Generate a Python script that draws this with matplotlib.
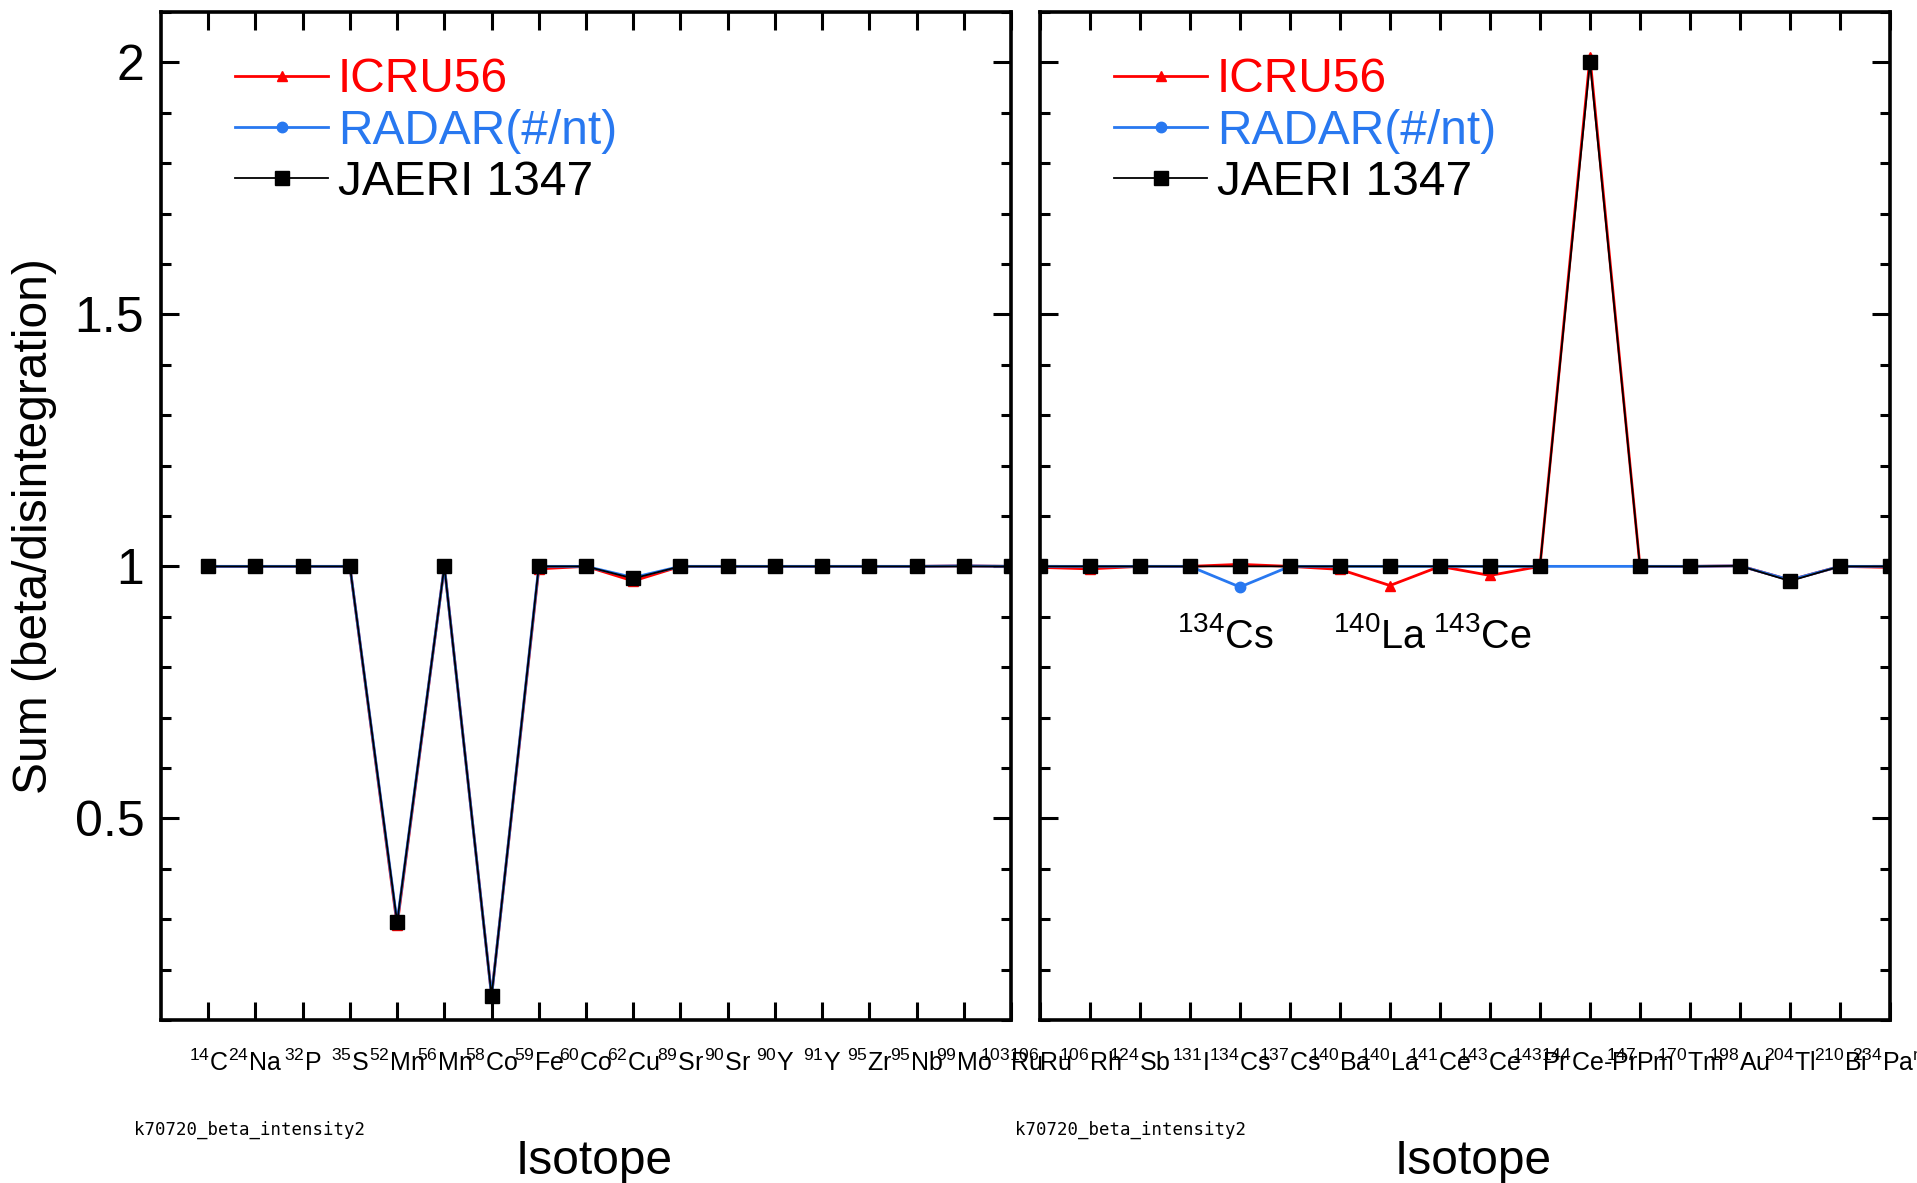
import matplotlib.pyplot as plt
from matplotlib.ticker import MultipleLocator, FixedLocator, FixedFormatter

plt.rcParams["font.family"] = ["Liberation Sans", "DejaVu Sans"]
plt.rcParams["mathtext.fontset"] = "custom"
plt.rcParams["mathtext.rm"] = "Liberation Sans"
plt.rcParams["mathtext.it"] = "Liberation Sans:italic"
plt.rcParams["mathtext.bf"] = "Liberation Sans:bold"

# isotopes, first half
ISO_A = [r"$^{14}$C", r"$^{24}$Na", r"$^{32}$P", r"$^{35}$S", r"$^{52}$Mn",
         r"$^{56}$Mn", r"$^{58}$Co", r"$^{59}$Fe", r"$^{60}$Co", r"$^{62}$Cu",
         r"$^{89}$Sr", r"$^{90}$Sr", r"$^{90}$Y", r"$^{91}$Y", r"$^{95}$Zr",
         r"$^{95}$Nb", r"$^{99}$Mo", r"$^{103}$Ru"]
ICRU_A = [1.0, 1.0, 1.0, 1.0, 0.288, 1.0, 0.148, 0.995, 1.0, 0.971,
          1.0, 1.0, 1.0, 1.0, 1.0, 1.0, 1.001, 1.0]
RADAR_A = [1.0, 1.0, 1.0, 1.0, 0.294, 1.0, 0.148, 1.0, 1.0, 0.978,
           1.0, 1.0, 1.0, 1.0, 1.0, 1.0, 1.001, 1.0]
JAERI_A = [1.0, 1.0, 1.0, 1.0, 0.294, 1.0, 0.148, 1.0, 1.0, 0.976,
           1.0, 1.0, 1.0, 1.0, 1.0, 1.0, 1.0, 1.0]

# isotopes, second half
ISO_B = [r"$^{106}$Ru", r"$^{106}$Rh", r"$^{124}$Sb", r"$^{131}$I", r"$^{134}$Cs",
         r"$^{137}$Cs", r"$^{140}$Ba", r"$^{140}$La", r"$^{141}$Ce", r"$^{143}$Ce",
         r"$^{143}$Pr", r"$^{144}$Ce-Pr", r"$^{147}$Pm", r"$^{170}$Tm", r"$^{198}$Au",
         r"$^{204}$Tl", r"$^{210}$Bi", r"$^{234}$Pa$^{\mathrm{m}}$"]
ICRU_B = [0.998, 0.995, 1.0, 1.0, 1.004, 1.0, 0.994, 0.962, 1.0, 0.982,
          1.0, 2.01, 1.0, 1.0, 1.001, 0.973, 1.0, 0.998]
RADAR_B = [1.0, 1.0, 1.0, 1.0, 0.959, 1.0, 1.0, 1.0, 1.0, 1.0,
           1.0, 1.0, 1.0, 1.0, 1.001, 0.973, 1.0, 1.0]
JAERI_B = [1.0, 1.0, 1.0, 1.0, 1.0, 1.0, 1.0, 1.0, 1.0, 1.0,
           1.0, 2.0, 1.0, 1.0, 1.001, 0.971, 1.0, 1.0]
# RADAR has no point of its own for the 144Ce-Pr chain, the line just passes
RADAR_B_MARKED = [i for i in range(len(ISO_B)) if i != 11]

NOTES = [(r"$^{134}$Cs", 3.7), (r"$^{140}$La", 6.8), (r"$^{143}$Ce", 8.85)]
NOTE_Y = 0.86

RED = "#FF0000"
BLUE = "#2878F0"


def draw_panel(ax, names, icru, radar, jaeri, xlim, show_yticklabels,
               radar_marks=None):
    x = list(range(len(names)))
    ax.plot(x, icru, color=RED, lw=2.0, marker="^", ms=7.5, label="ICRU56")
    ax.plot(x, radar, color=BLUE, lw=2.0, marker="o", ms=7.5,
            markevery=radar_marks, label="RADAR(#/nt)")
    ax.plot(x, jaeri, color="black", lw=1.3, marker="s", ms=9.5, label="JAERI 1347")

    ax.set_xlim(*xlim)
    ax.set_ylim(0.1, 2.1)
    ax.xaxis.set_major_locator(FixedLocator(x))
    ax.xaxis.set_major_formatter(FixedFormatter(names))
    ax.yaxis.set_major_locator(FixedLocator([0.5, 1.0, 1.5, 2.0]))
    ax.yaxis.set_major_formatter(FixedFormatter(["0.5", "1", "1.5", "2"]))
    ax.yaxis.set_minor_locator(MultipleLocator(0.1))

    ax.tick_params(which="both", direction="in", top=True, right=True, width=2.2)
    ax.tick_params(which="major", length=13)
    ax.tick_params(which="minor", length=7)
    ax.tick_params(axis="x", labelsize=18, pad=21)
    ax.tick_params(axis="y", labelsize=36, pad=12, labelleft=show_yticklabels)
    for sp in ax.spines.values():
        sp.set_linewidth(2.6)

    ax.set_xlabel("Isotope", fontsize=34.5)
    ax.xaxis.set_label_coords(0.51, -0.118)

    ax.legend(loc="upper left", bbox_to_anchor=(0.087, 0.955), frameon=False,
              fontsize=34.5, labelcolor="linecolor", handlelength=1.95,
              handletextpad=0.2, labelspacing=0.13, borderpad=0,
              borderaxespad=0, numpoints=1)


fig = plt.figure(figsize=(19.17, 11.83), dpi=100)
ax1 = fig.add_axes([0.0840, 0.1378, 0.4434, 0.8521])
ax2 = fig.add_axes([0.5425, 0.1378, 0.4434, 0.8521])

draw_panel(ax1, ISO_A, ICRU_A, RADAR_A, JAERI_A, (-1, 17), True)
draw_panel(ax2, ISO_B, ICRU_B, RADAR_B, JAERI_B, (0, 17), False,
           radar_marks=RADAR_B_MARKED)

ax1.set_ylabel("Sum (beta/disintegration)", fontsize=34.5)
ax1.yaxis.set_label_coords(-0.122, 0.49)

for label, xpos in NOTES:
    ax2.text(xpos, NOTE_Y, label, fontsize=28.5, ha="center", va="center")

for xpos in (0.070, 0.5295):
    fig.text(xpos, 0.0445, "k70720_beta_intensity2", fontsize=12.5,
             family="DejaVu Sans Mono", va="center")

fig.savefig("out.png", dpi=100)
